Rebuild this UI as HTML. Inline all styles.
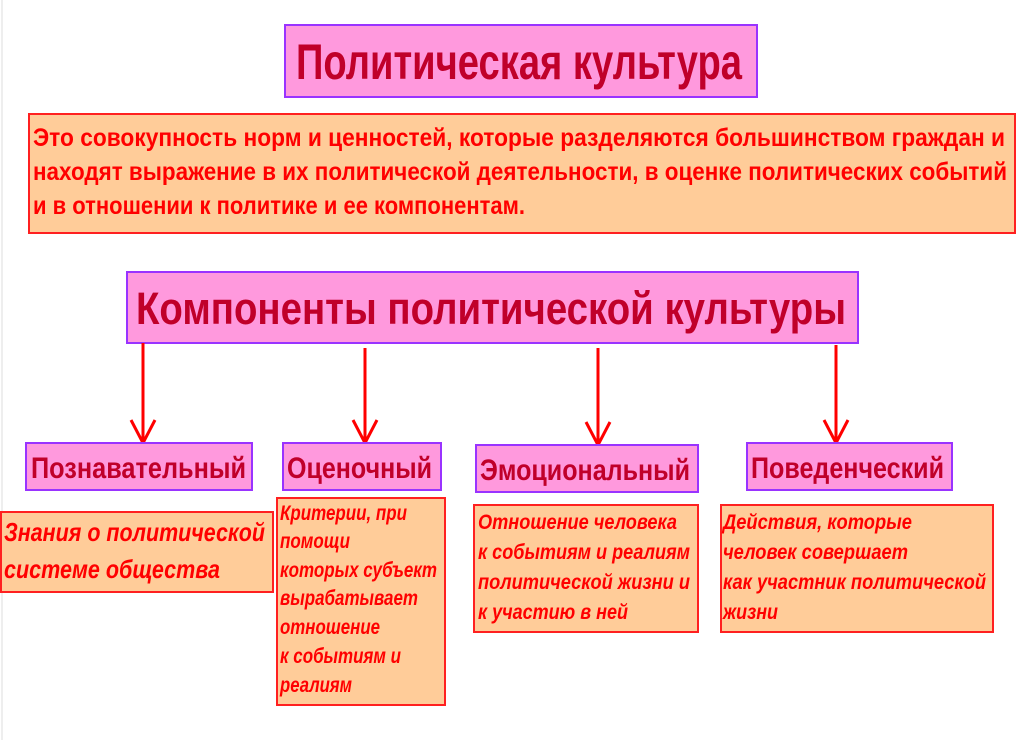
<!DOCTYPE html>
<html><head><meta charset="utf-8"><style>
html,body{margin:0;padding:0;background:#fff;width:1023px;height:740px;overflow:hidden}
svg{display:block}
text{font-family:"Liberation Sans","DejaVu Sans",sans-serif;font-weight:bold}
.h{fill:#c0002a}
.b{fill:#ff0000}
.i{fill:#ff0000;font-style:italic}
.pk{fill:#ff99dd;stroke:#9933ff;stroke-width:2}
.pe{fill:#ffcc99;stroke:#ff2020;stroke-width:2}
</style></head><body>
<svg width="1023" height="740" viewBox="0 0 1023 740" xmlns="http://www.w3.org/2000/svg">
<line x1="2" y1="0" x2="2" y2="740" stroke="#ddd" stroke-width="1"/>
<rect class="pk" x="285" y="25" width="472" height="72"/>
<text class="h" x="296" y="79" font-size="50" textLength="446" lengthAdjust="spacingAndGlyphs">Политическая культура</text>

<rect class="pe" x="29" y="114" width="986" height="119"/>
<text class="b" x="33" y="146" font-size="25" textLength="972" lengthAdjust="spacingAndGlyphs">Это совокупность норм и ценностей, которые разделяются большинством граждан и</text>
<text class="b" x="33" y="180" font-size="25" textLength="974" lengthAdjust="spacingAndGlyphs">находят выражение в их политической деятельности, в оценке политических событий</text>
<text class="b" x="33" y="214" font-size="25" textLength="492" lengthAdjust="spacingAndGlyphs">и в отношении к политике и ее компонентам.</text>

<rect class="pk" x="127" y="272" width="731" height="71"/>
<text class="h" x="136" y="324" font-size="45" textLength="710" lengthAdjust="spacingAndGlyphs">Компоненты политической культуры</text>

<g stroke="#ff0000" stroke-width="3" fill="none">
<line x1="143" y1="343" x2="143" y2="443"/><polyline points="131,420 143,443 155,420"/>
<line x1="365" y1="348" x2="365" y2="443"/><polyline points="353,420 365,443 377,420"/>
<line x1="598" y1="348" x2="598" y2="445"/><polyline points="586,422 598,445 610,422"/>
<line x1="836" y1="345" x2="836" y2="443"/><polyline points="824,420 836,443 848,420"/>
</g>

<rect class="pk" x="26" y="443" width="226" height="47"/>
<text class="h" x="31" y="478" font-size="30" textLength="215" lengthAdjust="spacingAndGlyphs">Познавательный</text>
<rect class="pk" x="283" y="443" width="158" height="47"/>
<text class="h" x="287" y="478" font-size="30" textLength="145" lengthAdjust="spacingAndGlyphs">Оценочный</text>
<rect class="pk" x="476" y="445" width="222" height="47"/>
<text class="h" x="480" y="480" font-size="30" textLength="210" lengthAdjust="spacingAndGlyphs">Эмоциональный</text>
<rect class="pk" x="747" y="443" width="205" height="47"/>
<text class="h" x="751" y="478" font-size="30" textLength="193" lengthAdjust="spacingAndGlyphs">Поведенческий</text>

<rect class="pe" x="1" y="512" width="272" height="80"/>
<text class="i" x="4" y="541" font-size="26" textLength="261" lengthAdjust="spacingAndGlyphs">Знания о политической</text>
<text class="i" x="4" y="578" font-size="26" textLength="216" lengthAdjust="spacingAndGlyphs">системе общества</text>

<rect class="pe" x="277" y="498" width="168" height="207"/>
<text class="i" x="280" y="520" font-size="21" textLength="127" lengthAdjust="spacingAndGlyphs">Критерии, при</text>
<text class="i" x="280" y="548" font-size="21" textLength="70" lengthAdjust="spacingAndGlyphs">помощи</text>
<text class="i" x="280" y="577" font-size="21" textLength="157" lengthAdjust="spacingAndGlyphs">которых субъект</text>
<text class="i" x="280" y="605" font-size="21" textLength="138" lengthAdjust="spacingAndGlyphs">вырабатывает</text>
<text class="i" x="280" y="634" font-size="21" textLength="100" lengthAdjust="spacingAndGlyphs">отношение</text>
<text class="i" x="280" y="663" font-size="21" textLength="121" lengthAdjust="spacingAndGlyphs">к событиям и</text>
<text class="i" x="280" y="692" font-size="21" textLength="72" lengthAdjust="spacingAndGlyphs">реалиям</text>

<rect class="pe" x="474" y="505" width="224" height="127"/>
<text class="i" x="478" y="529" font-size="21" textLength="199" lengthAdjust="spacingAndGlyphs">Отношение человека</text>
<text class="i" x="478" y="559" font-size="21" textLength="212" lengthAdjust="spacingAndGlyphs">к событиям и реалиям</text>
<text class="i" x="478" y="589" font-size="21" textLength="212" lengthAdjust="spacingAndGlyphs">политической жизни и</text>
<text class="i" x="478" y="619" font-size="21" textLength="150" lengthAdjust="spacingAndGlyphs">к участию в ней</text>

<rect class="pe" x="721" y="505" width="272" height="127"/>
<text class="i" x="723" y="529" font-size="21" textLength="189" lengthAdjust="spacingAndGlyphs">Действия, которые</text>
<text class="i" x="723" y="559" font-size="21" textLength="185" lengthAdjust="spacingAndGlyphs">человек совершает</text>
<text class="i" x="723" y="589" font-size="21" textLength="263" lengthAdjust="spacingAndGlyphs">как участник политической</text>
<text class="i" x="723" y="619" font-size="21" textLength="55" lengthAdjust="spacingAndGlyphs">жизни</text>
</svg>
</body></html>
